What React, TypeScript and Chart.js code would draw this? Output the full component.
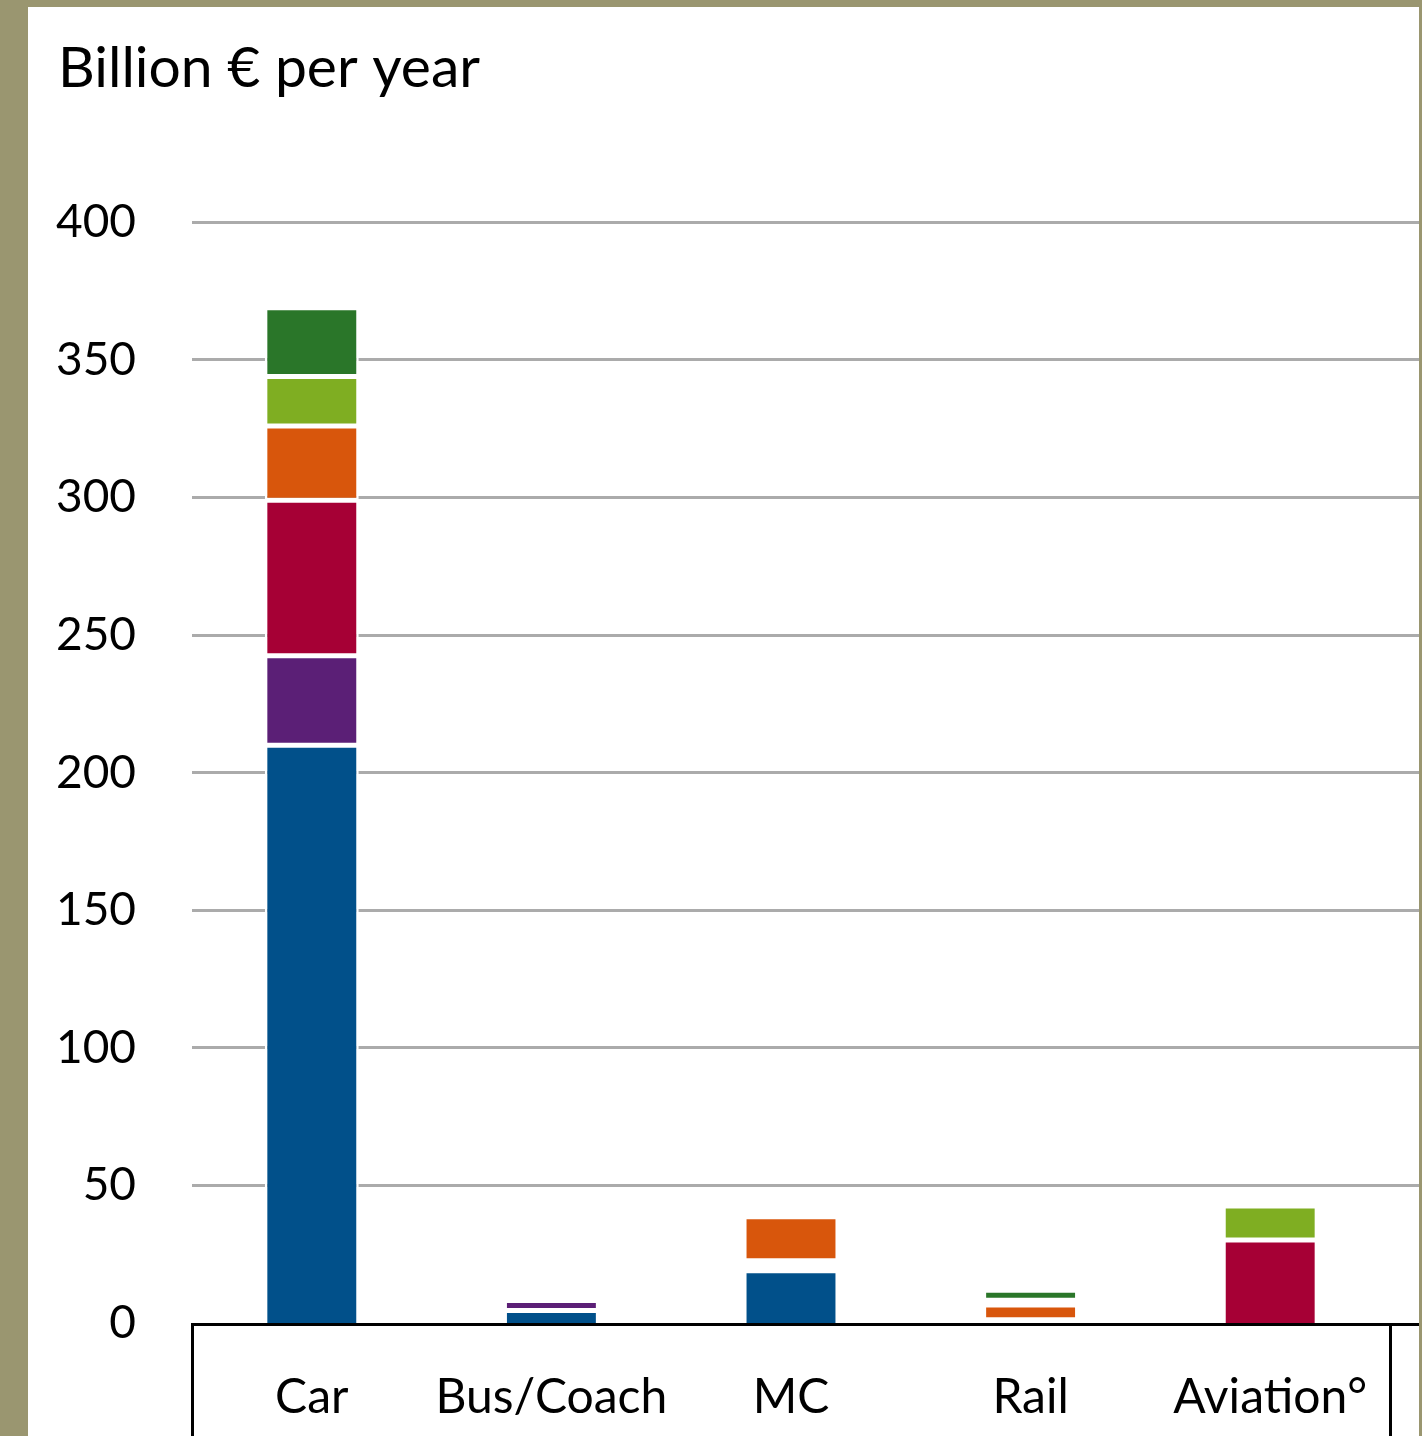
import React, { useEffect, useRef } from "react";
import { Chart, registerables } from "chart.js";

Chart.register(...registerables);

const categories = ["Car", "Bus/Coach", "MC", "Rail", "Aviation°"];
const seriesNames = ["Accidents", "Air pollution", "Climate change", "Noise", "Well-to-tank", "Habitat damage"];
const accidents = [210, 4.5, 19, 1.2, 0];
const airPollution = [32.5, 3.7, 1.8, 0, 0];
const climate = [56.5, 0, 1.8, 0, 30.2];
const noise = [27, 0, 16, 5.3, 0];
const wellToTank = [18, 0, 0, 1.8, 12.3];
const habitat = [25, 0, 0, 3.6, 0];
const yTicks = [0, 50, 100, 150, 200, 250, 300, 350, 400];
const titleText = "Billion € per year";

const COLORS = ["#01508a", "#5b1f76", "#a60035", "#d8560c", "#7fae22", "#2a7629"];
const GRID = "#ababab";
const OLIVE = "#9a9670";

export default function App() {
  const ref = useRef<HTMLCanvasElement | null>(null);

  useEffect(() => {
    document.body.style.margin = "0";
    const canvas = ref.current;
    if (!canvas) return;
    const values = [accidents, airPollution, climate, noise, wellToTank, habitat];

    const align = (p: number, w: number) => Math.round(p - w / 2) + w / 2;

    const linesPlugin = {
      id: "tableLines",
      afterLayout(chart: any) {
        // widen the y-axis label clip region so wide labels are not cut
        const y = chart.scales.y;
        y.left = Math.max(0, y.left - 20);
      },
      beforeDatasetsDraw(chart: any) {
        const { ctx, chartArea, scales } = chart;
        const y = scales.y;
        ctx.save();
        ctx.strokeStyle = GRID;
        ctx.lineWidth = 3;
        y.ticks.forEach((t: any) => {
          if (t.value === 0) return;
          const py = align(y.getPixelForValue(t.value), 3);
          ctx.beginPath();
          ctx.moveTo(chartArea.left, py);
          ctx.lineTo(chart.width, py);
          ctx.stroke();
        });
        ctx.restore();
      },
      afterDraw(chart: any) {
        const { ctx, chartArea, scales } = chart;
        const y0 = align(scales.y.getPixelForValue(0), 3) + 1;
        const xl = align(chartArea.left, 3);
        const xr = align(chartArea.right, 3);
        ctx.save();
        ctx.strokeStyle = "#000";
        ctx.lineWidth = 3;
        ctx.beginPath();
        ctx.moveTo(xl - 1.5, y0);
        ctx.lineTo(chart.width, y0);
        ctx.moveTo(xl, y0);
        ctx.lineTo(xl, chart.height);
        ctx.moveTo(xr, y0);
        ctx.lineTo(xr, chart.height);
        ctx.stroke();
        ctx.restore();
      },
    };

    const chart = new Chart(canvas, {
      type: "bar",
      data: {
        labels: categories,
        datasets: values.map((v, i) => ({
          label: seriesNames[i],
          data: v,
          backgroundColor: COLORS[i],
          borderColor: "#ffffff",
          borderWidth: 2.5,
          borderSkipped: (c: any) => {
            const idx = c.dataIndex;
            let base = 0;
            for (let k = 0; k < c.datasetIndex; k++) base += values[k][idx];
            return base === 0 && values[c.datasetIndex][idx] > 2 ? "start" : false;
          },
          barPercentage: 1,
          categoryPercentage: 0.392,
        })),
      },
      options: {
        responsive: false,
        animation: false,
        devicePixelRatio: 1,
        layout: { padding: { left: 30, right: 29, top: 0, bottom: 0 } },
        font: { family: "Lato" },
        plugins: {
          legend: { display: false },
          tooltip: { enabled: false },
          title: {
            display: true,
            text: titleText,
            align: "start",
            color: "#000",
            font: { family: "Lato", size: 57, weight: "normal" },
            padding: { top: 27, bottom: 120 },
          },
        },
        scales: {
          x: {
            stacked: true,
            grid: { display: false, drawTicks: false },
            border: { display: false },
            ticks: {
              color: "#000",
              font: { family: "Lato", size: 48 },
              padding: 46,
            },
            afterFit: (s: any) => {
              s.height = 113;
            },
          },
          y: {
            stacked: true,
            min: 0,
            max: 400,
            afterBuildTicks: (s: any) => {
              s.ticks = yTicks.map((v) => ({ value: v }));
            },
            grid: { display: false, drawTicks: false },
            border: { display: false },
            ticks: {
              color: "#000",
              font: { family: "Lato", size: 46 },
              padding: 56,
            },
            afterFit: (s: any) => {
              s.width = 134;
            },
          },
        },
      },
      plugins: [linesPlugin],
    });
    return () => chart.destroy();
  }, []);

  return (
    <div style={{ position: "absolute", left: 0, top: 0, width: 1422, height: 1436, background: OLIVE, overflow: "hidden" }}>
      <div style={{ position: "absolute", left: 28, top: 7, width: 1391, height: 1429, background: "#ffffff" }}>
        <canvas ref={ref} width={1391} height={1429} style={{ display: "block", width: 1391, height: 1429 }} />
      </div>
    </div>
  );
}
